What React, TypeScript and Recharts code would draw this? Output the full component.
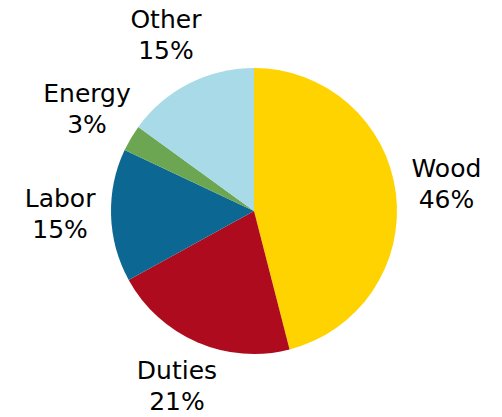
import { Cell, Pie, PieChart } from 'recharts';

const categories = ['Wood', 'Duties', 'Labor', 'Energy', 'Other'];
const shares = [46, 21, 15, 3, 15];
const colors = ['#FFD300', '#AE0C1E', '#0C6892', '#6CA652', '#A8DAE7'];

const data = categories.map((name, i) => ({ name, value: shares[i] }));

const RADIAN = Math.PI / 180;

function renderLabel(props: any) {
  const { cx, cy, midAngle, outerRadius, name, value } = props;
  const r = outerRadius + 51;
  const x = cx + r * Math.cos(-midAngle * RADIAN);
  const y = cy + r * Math.sin(-midAngle * RADIAN);
  return (
    <text
      x={x}
      y={y}
      textAnchor="middle"
      fill="#000"
      fontFamily="DejaVu Sans, sans-serif"
      fontSize={25}
    >
      <tspan x={x} dy={-10}>
        {name}
      </tspan>
      <tspan x={x} dy={31}>
        {value}%
      </tspan>
    </text>
  );
}

export default function App() {
  // pinned to the window corner so the svg covers the whole page
  return (
    <div style={{ position: 'absolute', left: 0, top: 0, width: 502, height: 417 }}>
      <PieChart width={502} height={417}>
        <Pie
          data={data}
          dataKey="value"
          nameKey="name"
          cx={249}
          cy={206}
          outerRadius={143}
          startAngle={90}
          endAngle={-270}
          stroke="none"
          label={renderLabel}
          labelLine={false}
          isAnimationActive={false}
        >
          {data.map((d, i) => (
            <Cell key={d.name} fill={colors[i]} />
          ))}
        </Pie>
      </PieChart>
    </div>
  );
}
